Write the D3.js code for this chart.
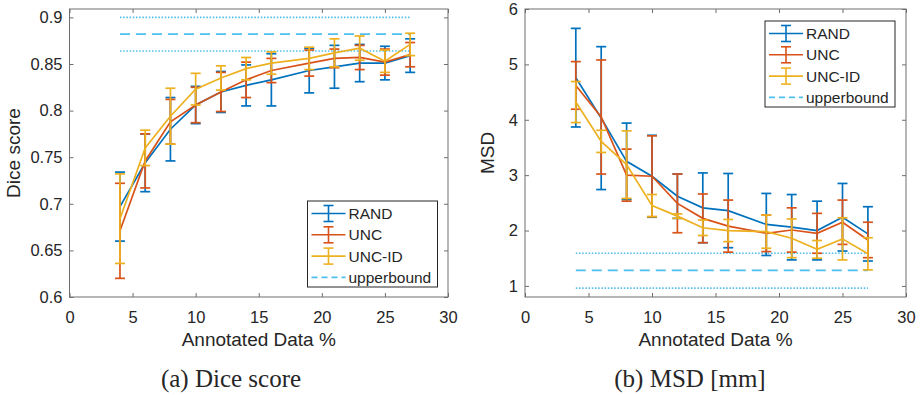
<!DOCTYPE html>
<html>
<head>
<meta charset="utf-8">
<script src="https://d3js.org/d3.v7.min.js"></script>
<style>
  body { margin: 0; background: #fff; }
  svg { display: block; }
  text { font-family: "Liberation Sans", Arial, sans-serif; fill: #262626; }
</style>
</head>
<body>
<svg width="923" height="395"></svg>
<script>
// annotated data percentages (x positions of the points)
var annotated = [4, 6, 8, 10, 12, 14, 16, 19, 21, 23, 25, 27];
var seriesNames = ["RAND", "UNC", "UNC-ID"];
var colors = ["#0072BD", "#D95319", "#EDB120"];
var boundColor = "#4DBEEE";

// (a) Dice score: means and error half-widths
var diceRand    = [0.697, 0.744, 0.780, 0.806, 0.820, 0.827, 0.833, 0.843, 0.847, 0.851, 0.851, 0.859];
var diceRandErr = [0.037, 0.031, 0.034, 0.020, 0.022, 0.022, 0.028, 0.024, 0.023, 0.020, 0.018, 0.018];
var diceUnc     = [0.671, 0.746, 0.788, 0.806, 0.820, 0.833, 0.843, 0.851, 0.856, 0.857, 0.852, 0.860];
var diceUncErr  = [0.051, 0.029, 0.024, 0.019, 0.021, 0.019, 0.013, 0.014, 0.010, 0.013, 0.014, 0.013];
var diceUncId   = [0.684, 0.760, 0.794, 0.823, 0.835, 0.845, 0.851, 0.856, 0.862, 0.867, 0.853, 0.871];
var diceUncIdErr= [0.048, 0.019, 0.030, 0.017, 0.013, 0.012, 0.012, 0.012, 0.015, 0.013, 0.012, 0.012];
var diceBound = [0.864, 0.882, 0.900];   // lower, upperbound, upper

// (b) MSD [mm]
var msdRand     = [4.76, 4.03, 3.25, 2.98, 2.62, 2.41, 2.36, 2.11, 2.06, 2.00, 2.24, 1.94];
var msdRandErr  = [0.89, 1.29, 0.69, 0.74, 0.40, 0.63, 0.67, 0.56, 0.59, 0.53, 0.61, 0.49];
var msdUnc      = [4.62, 4.05, 3.00, 2.98, 2.49, 2.22, 2.08, 1.95, 2.01, 1.95, 2.15, 1.83];
var msdUncErr   = [0.43, 1.03, 0.47, 0.73, 0.53, 0.44, 0.47, 0.33, 0.40, 0.36, 0.40, 0.32];
var msdUncId    = [4.32, 3.61, 3.19, 2.45, 2.26, 2.05, 2.00, 1.98, 1.86, 1.66, 1.85, 1.58];
var msdUncIdErr = [0.37, 0.20, 0.61, 0.20, 0.04, 0.14, 0.20, 0.30, 0.35, 0.16, 0.38, 0.29];
var msdBound = [0.96, 1.28, 1.59];

var xTicks = [0, 5, 10, 15, 20, 25, 30];
var diceTicks = [0.6, 0.65, 0.7, 0.75, 0.8, 0.85, 0.9];
var msdTicks = [1, 2, 3, 4, 5, 6];

var svg = d3.select("svg");

function drawPanel(cfg) {
  var x = d3.scaleLinear().domain([0, 30]).range([cfg.left, cfg.right]);
  var y = d3.scaleLinear().domain(cfg.yDomain).range([297, 9]);
  var g = svg.append("g");

  // box
  g.append("rect")
    .attr("x", cfg.left).attr("y", 9)
    .attr("width", cfg.right - cfg.left).attr("height", 288)
    .attr("fill", "none").attr("stroke", "#6e6e6e").attr("stroke-width", 1);

  // axes (inward ticks, MATLAB style)
  var bottom = g.append("g").attr("transform", "translate(0,297)")
    .call(d3.axisBottom(x).tickValues(xTicks).tickSizeInner(-4).tickSizeOuter(0).tickPadding(14));
  var top = g.append("g").attr("transform", "translate(0,9)")
    .call(d3.axisTop(x).tickValues(xTicks).tickSizeInner(-4).tickSizeOuter(0).tickFormat(""));
  var left = g.append("g").attr("transform", "translate(" + cfg.left + ",0)")
    .call(d3.axisLeft(y).tickValues(cfg.yTicks).tickSizeInner(-4).tickSizeOuter(0).tickPadding(7)
      .tickFormat(cfg.yFormat));
  var right = g.append("g").attr("transform", "translate(" + cfg.right + ",0)")
    .call(d3.axisRight(y).tickValues(cfg.yTicks).tickSizeInner(-4).tickSizeOuter(0).tickFormat(""));
  [bottom, top, left, right].forEach(function(a) {
    a.select(".domain").remove();
    a.selectAll(".tick line").attr("stroke", "#6e6e6e");
    a.selectAll("text").attr("font-size", "16.5px").attr("fill", "#262626")
      .attr("font-family", "Liberation Sans, Arial, sans-serif");
  });

  // upperbound lines
  var xb0 = x(annotated[0]), xb1 = x(annotated[annotated.length - 1]);
  cfg.bound.forEach(function(v, i) {
    g.append("line")
      .attr("x1", xb0).attr("x2", xb1).attr("y1", y(v)).attr("y2", y(v))
      .attr("stroke", boundColor).attr("stroke-width", 1.6)
      .attr("stroke-dasharray", i == 1 ? "10,6" : "1.5,1.7");
  });

  // series
  var line = d3.line()
    .x(function(d) { return x(d.x); })
    .y(function(d) { return y(d.m); });
  cfg.series.forEach(function(s, si) {
    var pts = annotated.map(function(v, i) { return { x: v, m: s.mean[i], e: s.err[i] }; });
    var sg = g.append("g").attr("stroke", colors[si]).attr("stroke-width", 1.7).attr("fill", "none");
    sg.append("path").attr("d", line(pts));
    var bars = sg.selectAll("g.bar").data(pts).enter().append("g").attr("class", "bar");
    bars.append("line")
      .attr("x1", function(d) { return x(d.x); }).attr("x2", function(d) { return x(d.x); })
      .attr("y1", function(d) { return y(d.m - d.e); }).attr("y2", function(d) { return y(d.m + d.e); });
    bars.append("line")
      .attr("x1", function(d) { return x(d.x) - 5; }).attr("x2", function(d) { return x(d.x) + 5; })
      .attr("y1", function(d) { return y(d.m + d.e); }).attr("y2", function(d) { return y(d.m + d.e); });
    bars.append("line")
      .attr("x1", function(d) { return x(d.x) - 5; }).attr("x2", function(d) { return x(d.x) + 5; })
      .attr("y1", function(d) { return y(d.m - d.e); }).attr("y2", function(d) { return y(d.m - d.e); });
  });

  // axis labels
  g.append("text")
    .attr("x", (cfg.left + cfg.right) / 2).attr("y", 346)
    .attr("text-anchor", "middle").attr("font-size", "19px")
    .text("Annotated Data %");
  g.append("text")
    .attr("transform", "translate(" + cfg.yLabelX + ",153) rotate(-90)")
    .attr("text-anchor", "middle").attr("font-size", "19px")
    .text(cfg.yLabel);

  // caption
  g.append("text")
    .attr("x", cfg.captionX).attr("y", 387)
    .attr("text-anchor", "middle").attr("font-size", "25px")
    .style("font-family", "Liberation Serif, serif")
    .text(cfg.caption);

  // legend
  var lg = g.append("g").attr("transform", "translate(" + cfg.legend[0] + "," + cfg.legend[1] + ")");
  lg.append("rect").attr("width", 130).attr("height", 86)
    .attr("fill", "#fff").attr("stroke", "#262626").attr("stroke-width", 1);
  var entries = seriesNames.concat(["upperbound"]);
  entries.forEach(function(name, i) {
    var cy = 12.5 + i * 21.3;
    var row = lg.append("g");
    var col = i < 3 ? colors[i] : boundColor;
    row.append("line").attr("x1", 4).attr("x2", 38).attr("y1", cy).attr("y2", cy)
      .attr("stroke", col).attr("stroke-width", 1.6)
      .attr("stroke-dasharray", i < 3 ? null : "6,4");
    if (i < 3) {
      row.append("line").attr("x1", 21).attr("x2", 21).attr("y1", cy - 8).attr("y2", cy + 8)
        .attr("stroke", col).attr("stroke-width", 1.6);
      [-8, 8].forEach(function(o) {
        row.append("line").attr("x1", 16).attr("x2", 26).attr("y1", cy + o).attr("y2", cy + o)
          .attr("stroke", col).attr("stroke-width", 1.6);
      });
    }
    row.append("text").attr("x", 41).attr("y", cy).attr("dy", "0.36em")
      .attr("font-size", "15.5px").text(name);
  });
}

drawPanel({
  left: 69.5, right: 448, yDomain: [0.6, 0.909], yTicks: diceTicks,
  yFormat: function(d) { return d3.format("")(+d.toFixed(2)); },
  bound: diceBound, yLabel: "Dice score", yLabelX: 20,
  caption: "(a) Dice score", captionX: 231,
  legend: [307.5, 201],
  series: [
    { mean: diceRand, err: diceRandErr },
    { mean: diceUnc, err: diceUncErr },
    { mean: diceUncId, err: diceUncIdErr }
  ]
});

drawPanel({
  left: 525, right: 906, yDomain: [0.8, 6], yTicks: msdTicks,
  yFormat: d3.format("d"),
  bound: msdBound, yLabel: "MSD", yLabelX: 494,
  caption: "(b) MSD [mm]", captionX: 690,
  legend: [765, 21],
  series: [
    { mean: msdRand, err: msdRandErr },
    { mean: msdUnc, err: msdUncErr },
    { mean: msdUncId, err: msdUncIdErr }
  ]
});
</script>
</body>
</html>
